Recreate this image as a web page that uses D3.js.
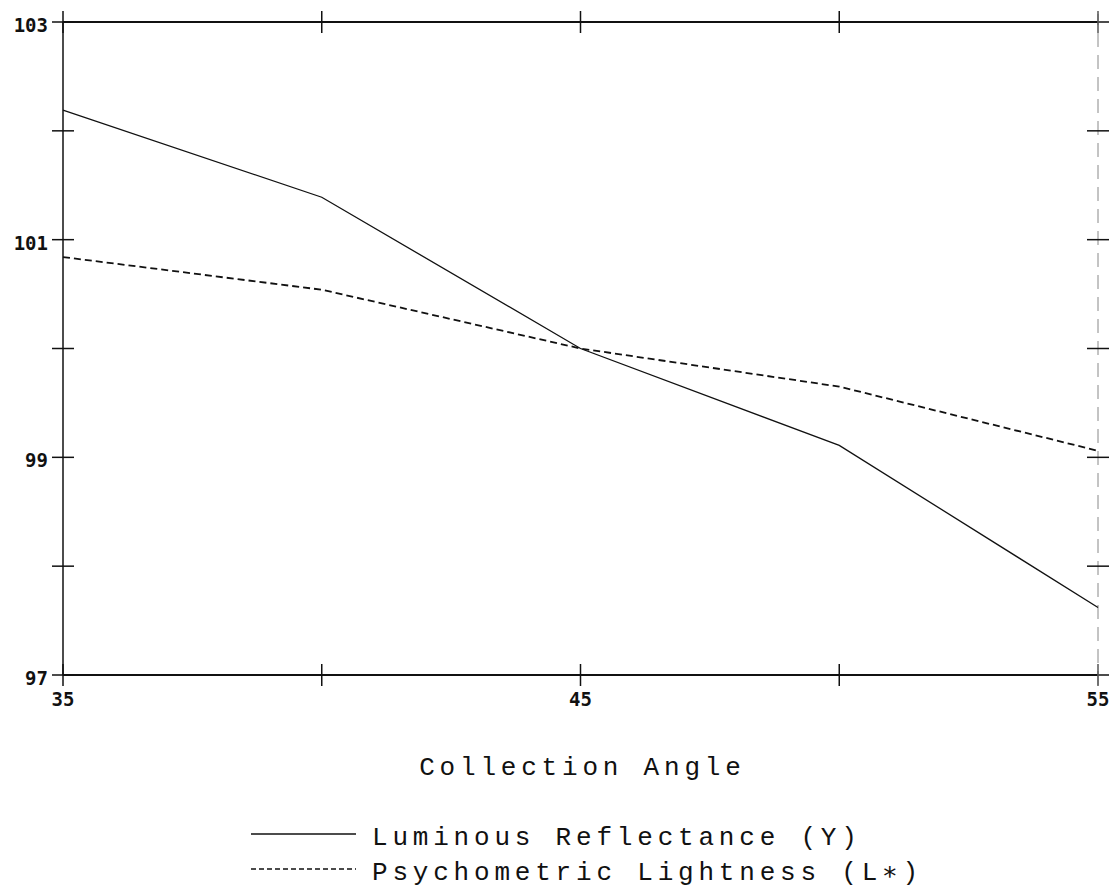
<!DOCTYPE html>
<html>
<head>
<meta charset="utf-8">
<script src="https://cdn.jsdelivr.net/npm/d3@7"></script>
<style>
  html, body { margin: 0; padding: 0; background: #fff; }
  svg text { fill: #111; }
</style>
</head>
<body>
<svg id="chart" width="1112" height="890"></svg>
<script>
// Collection angle (degrees)
const angles = [35, 40, 45, 50, 55];
// Luminous reflectance (Y)
const luminous = [102.19, 101.39, 100.0, 99.11, 97.62];
// Psychometric lightness (L*)
const lightness = [100.84, 100.54, 100.0, 99.65, 99.06];

const xTicks = [35, 40, 45, 50, 55];
const xTickLabels = ["35", "", "45", "", "55"];
const yTicks = [97, 98, 99, 100, 101, 102, 103];
const yTickLabels = ["97", "", "99", "", "101", "", "103"];

const seriesNames = ["Luminous Reflectance (Y)", "Psychometric Lightness (L\u2217)"];

const svg = d3.select("#chart");
const margin = { left: 63, right: 14, top: 22, bottom: 215 };
const W = 1112, H = 890;

const x = d3.scaleLinear().domain([35, 55]).range([margin.left, W - margin.right]);
const y = d3.scaleLinear().domain([97, 103]).range([H - margin.bottom, margin.top]);

const ink = "#111";
const tickFont = "'DejaVu Sans Mono', monospace";
const labelFont = "'Liberation Mono', 'DejaVu Sans Mono', monospace";
const labelSize = 26;
const labelSpacing = 4.8;

// frame: left, bottom, top solid; right faint dashed
svg.append("line").attr("x1", x(35)).attr("x2", x(35)).attr("y1", y(97)).attr("y2", y(103))
  .attr("stroke", ink).attr("stroke-width", 1.5);
svg.append("line").attr("x1", x(35)).attr("x2", x(55)).attr("y1", y(97)).attr("y2", y(97))
  .attr("stroke", ink).attr("stroke-width", 2);
svg.append("line").attr("x1", x(35)).attr("x2", x(55)).attr("y1", y(103)).attr("y2", y(103))
  .attr("stroke", ink).attr("stroke-width", 2);
svg.append("line").attr("x1", x(55)).attr("x2", x(55)).attr("y1", y(97) + 10).attr("y2", y(103) - 8)
  .attr("stroke", "#888").attr("stroke-width", 1).attr("stroke-dasharray", "14,8");

// y ticks on both sides (cross-shaped)
const tickLen = 11;
yTicks.forEach((v, i) => {
  [35, 55].forEach(a => {
    svg.append("line")
      .attr("x1", x(a) - tickLen).attr("x2", x(a) + tickLen)
      .attr("y1", y(v)).attr("y2", y(v))
      .attr("stroke", ink).attr("stroke-width", 1.5);
  });
  if (yTickLabels[i]) {
    svg.append("text")
      .attr("x", x(35) - tickLen - 4).attr("y", y(v) + 3)
      .attr("dy", "0.36em").attr("text-anchor", "end")
      .attr("font-family", tickFont).attr("font-size", 19).attr("font-weight", "bold")
      .text(yTickLabels[i]);
  }
});

// x ticks on bottom and top
xTicks.forEach((v, i) => {
  [97, 103].forEach(b => {
    svg.append("line")
      .attr("x1", x(v)).attr("x2", x(v))
      .attr("y1", y(b) - tickLen).attr("y2", y(b) + tickLen)
      .attr("stroke", v === 55 ? "#555" : ink).attr("stroke-width", 1.5);
  });
  if (xTickLabels[i]) {
    svg.append("text")
      .attr("x", x(v)).attr("y", y(97) + 31)
      .attr("text-anchor", "middle")
      .attr("font-family", tickFont).attr("font-size", 19).attr("font-weight", "bold")
      .text(xTickLabels[i]);
  }
});

// series lines
const line = d3.line().x(d => x(d[0])).y(d => y(d[1]));
svg.append("path")
  .datum(angles.map((a, i) => [a, luminous[i]]))
  .attr("d", line).attr("fill", "none")
  .attr("stroke", ink).attr("stroke-width", 1.3);
svg.append("path")
  .datum(angles.map((a, i) => [a, lightness[i]]))
  .attr("d", line).attr("fill", "none")
  .attr("stroke", ink).attr("stroke-width", 1.8)
  .attr("stroke-dasharray", "7,4");

// axis title
svg.append("text")
  .attr("x", 580 + labelSpacing / 2).attr("y", 775)
  .attr("text-anchor", "middle")
  .attr("font-family", labelFont).attr("font-size", labelSize)
  .attr("letter-spacing", labelSpacing)
  .text("Collection Angle");

// legend
const legendRows = [
  { y: 834, dash: null, width: 1.4 },
  { y: 869, dash: "5,3", width: 1.4 }
];
legendRows.forEach((r, i) => {
  const ln = svg.append("line")
    .attr("x1", 251).attr("x2", 356).attr("y1", r.y).attr("y2", r.y)
    .attr("stroke", ink).attr("stroke-width", r.width);
  if (r.dash) ln.attr("stroke-dasharray", r.dash);
  svg.append("text")
    .attr("x", 372).attr("y", r.y + 11)
    .attr("font-family", labelFont).attr("font-size", labelSize)
    .attr("letter-spacing", labelSpacing)
    .text(seriesNames[i]);
});
</script>
</body>
</html>
